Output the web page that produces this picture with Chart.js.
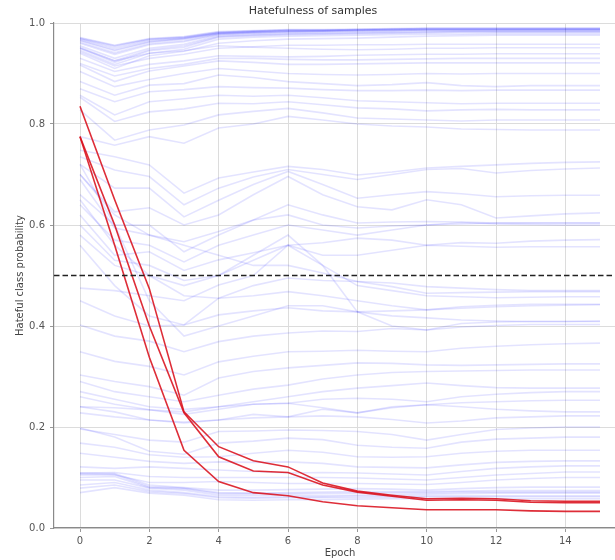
<!DOCTYPE html>
<html>
<head>
<meta charset="utf-8">
<script src="https://cdn.jsdelivr.net/npm/chart.js@4/dist/chart.umd.min.js"></script>
<style>
  html, body { margin: 0; padding: 0; background: #fff; overflow: hidden; }
  #wrap { width: 615px; height: 560px; overflow: hidden; }
</style>
</head>
<body>
<div id="wrap"><canvas id="hateChart" width="640" height="560"></canvas></div>
<script>
// --- data ---
const epochs = [0, 1, 2, 3, 4, 5, 6, 7, 8, 9, 10, 11, 12, 13, 14, 15];
const xTicks = [0, 2, 4, 6, 8, 10, 12, 14];
const yTicks = [0, 0.2, 0.4, 0.6, 0.8, 1.0];
const threshold = 0.5;
const xRange = [-0.75, 15.75];

// the three highlighted samples (red)
const redA = [0.835, 0.650, 0.474, 0.230, 0.161, 0.133, 0.121, 0.089, 0.073, 0.065, 0.058, 0.059, 0.058, 0.054, 0.053, 0.053];
const redB = [0.775, 0.600, 0.400, 0.228, 0.141, 0.113, 0.110, 0.085, 0.071, 0.063, 0.055, 0.056, 0.055, 0.051, 0.050, 0.050];
const redC = [0.775, 0.560, 0.338, 0.154, 0.092, 0.070, 0.064, 0.052, 0.044, 0.040, 0.036, 0.036, 0.036, 0.034, 0.033, 0.033];

// all other samples (faint blue)
const blueTop = [
  [0.971, 0.956, 0.969, 0.973, 0.983, 0.985, 0.987, 0.987, 0.988, 0.989, 0.990, 0.990, 0.990, 0.990, 0.990, 0.990],
  [0.970, 0.955, 0.968, 0.972, 0.982, 0.984, 0.986, 0.986, 0.987, 0.988, 0.989, 0.989, 0.989, 0.989, 0.989, 0.989],
  [0.969, 0.953, 0.967, 0.971, 0.981, 0.984, 0.986, 0.986, 0.987, 0.988, 0.989, 0.989, 0.989, 0.989, 0.989, 0.989],
  [0.968, 0.950, 0.965, 0.970, 0.980, 0.983, 0.985, 0.985, 0.986, 0.987, 0.988, 0.988, 0.988, 0.988, 0.988, 0.988],
  [0.966, 0.947, 0.963, 0.969, 0.980, 0.982, 0.984, 0.985, 0.986, 0.987, 0.987, 0.987, 0.987, 0.987, 0.987, 0.987],
  [0.965, 0.945, 0.962, 0.968, 0.979, 0.982, 0.984, 0.984, 0.985, 0.986, 0.987, 0.987, 0.987, 0.987, 0.987, 0.987],
  [0.962, 0.941, 0.959, 0.965, 0.978, 0.981, 0.983, 0.984, 0.985, 0.985, 0.986, 0.986, 0.986, 0.986, 0.986, 0.986],
  [0.960, 0.938, 0.957, 0.963, 0.977, 0.980, 0.982, 0.983, 0.984, 0.985, 0.986, 0.986, 0.986, 0.986, 0.986, 0.986],
  [0.955, 0.930, 0.950, 0.958, 0.975, 0.978, 0.980, 0.981, 0.982, 0.983, 0.984, 0.984, 0.984, 0.984, 0.984, 0.984],
  [0.952, 0.925, 0.947, 0.955, 0.973, 0.976, 0.978, 0.979, 0.980, 0.981, 0.982, 0.983, 0.983, 0.983, 0.983, 0.983],
  [0.950, 0.922, 0.945, 0.952, 0.972, 0.975, 0.977, 0.978, 0.979, 0.980, 0.981, 0.982, 0.982, 0.982, 0.982, 0.982],
  [0.946, 0.918, 0.940, 0.948, 0.968, 0.972, 0.974, 0.975, 0.976, 0.977, 0.978, 0.978, 0.979, 0.979, 0.979, 0.979],
  [0.940, 0.910, 0.935, 0.944, 0.960, 0.965, 0.968, 0.969, 0.970, 0.972, 0.974, 0.975, 0.976, 0.976, 0.976, 0.976]
];
const blueUpper = [
  [0.943, 0.915, 0.930, 0.938, 0.950, 0.953, 0.956, 0.956, 0.957, 0.957, 0.958, 0.958, 0.958, 0.958, 0.958, 0.958],
  [0.950, 0.925, 0.940, 0.945, 0.955, 0.952, 0.950, 0.948, 0.947, 0.948, 0.950, 0.950, 0.951, 0.951, 0.951, 0.951],
  [0.930, 0.904, 0.918, 0.925, 0.935, 0.934, 0.933, 0.934, 0.936, 0.937, 0.938, 0.938, 0.939, 0.939, 0.939, 0.939],
  [0.920, 0.895, 0.910, 0.918, 0.930, 0.930, 0.928, 0.927, 0.927, 0.928, 0.929, 0.930, 0.930, 0.930, 0.930, 0.930],
  [0.917, 0.884, 0.905, 0.915, 0.925, 0.922, 0.918, 0.918, 0.919, 0.920, 0.921, 0.921, 0.921, 0.921, 0.921, 0.921],
  [0.904, 0.874, 0.888, 0.900, 0.910, 0.905, 0.900, 0.898, 0.897, 0.898, 0.900, 0.899, 0.900, 0.900, 0.900, 0.900],
  [0.884, 0.857, 0.877, 0.880, 0.897, 0.892, 0.884, 0.880, 0.876, 0.878, 0.882, 0.876, 0.874, 0.876, 0.876, 0.876],
  [0.870, 0.844, 0.864, 0.868, 0.874, 0.872, 0.871, 0.868, 0.866, 0.866, 0.867, 0.866, 0.867, 0.867, 0.867, 0.867],
  [0.857, 0.818, 0.844, 0.850, 0.857, 0.855, 0.857, 0.852, 0.846, 0.844, 0.842, 0.840, 0.841, 0.841, 0.841, 0.841],
  [0.853, 0.805, 0.824, 0.830, 0.841, 0.840, 0.844, 0.838, 0.832, 0.830, 0.826, 0.828, 0.829, 0.828, 0.828, 0.828],
  [0.828, 0.768, 0.788, 0.798, 0.818, 0.825, 0.831, 0.822, 0.812, 0.810, 0.808, 0.806, 0.808, 0.808, 0.808, 0.808],
  [0.775, 0.758, 0.775, 0.762, 0.792, 0.800, 0.815, 0.808, 0.800, 0.796, 0.794, 0.790, 0.789, 0.788, 0.788, 0.788]
];
const blueMid = [
  [0.748, 0.735, 0.719, 0.663, 0.693, 0.705, 0.716, 0.710, 0.699, 0.705, 0.713, 0.716, 0.719, 0.722, 0.724, 0.725],
  [0.735, 0.709, 0.696, 0.640, 0.673, 0.695, 0.710, 0.700, 0.690, 0.700, 0.710, 0.712, 0.703, 0.708, 0.711, 0.713],
  [0.720, 0.673, 0.673, 0.616, 0.649, 0.680, 0.706, 0.680, 0.653, 0.660, 0.666, 0.662, 0.656, 0.658, 0.659, 0.659],
  [0.700, 0.626, 0.634, 0.600, 0.620, 0.660, 0.696, 0.660, 0.636, 0.630, 0.650, 0.640, 0.614, 0.618, 0.622, 0.624],
  [0.690, 0.594, 0.580, 0.567, 0.587, 0.610, 0.640, 0.620, 0.604, 0.606, 0.607, 0.606, 0.604, 0.604, 0.604, 0.604],
  [0.660, 0.600, 0.600, 0.547, 0.580, 0.610, 0.620, 0.600, 0.594, 0.598, 0.600, 0.602, 0.604, 0.604, 0.604, 0.604],
  [0.640, 0.570, 0.560, 0.527, 0.560, 0.580, 0.600, 0.590, 0.580, 0.590, 0.600, 0.605, 0.602, 0.601, 0.600, 0.600],
  [0.620, 0.540, 0.547, 0.510, 0.531, 0.545, 0.560, 0.565, 0.574, 0.570, 0.560, 0.565, 0.564, 0.568, 0.570, 0.571],
  [0.600, 0.530, 0.520, 0.490, 0.500, 0.530, 0.560, 0.540, 0.540, 0.550, 0.560, 0.558, 0.556, 0.557, 0.557, 0.557]
];
const blueLow = [
  [0.700, 0.620, 0.580, 0.560, 0.540, 0.520, 0.520, 0.505, 0.488, 0.478, 0.465, 0.466, 0.467, 0.468, 0.468, 0.468],
  [0.475, 0.470, 0.460, 0.450, 0.481, 0.500, 0.560, 0.520, 0.480, 0.470, 0.460, 0.458, 0.456, 0.457, 0.458, 0.458],
  [0.650, 0.560, 0.500, 0.460, 0.455, 0.460, 0.468, 0.460, 0.450, 0.440, 0.432, 0.438, 0.441, 0.443, 0.443, 0.443],
  [0.720, 0.600, 0.450, 0.380, 0.400, 0.420, 0.440, 0.440, 0.428, 0.430, 0.432, 0.435, 0.438, 0.440, 0.441, 0.442],
  [0.560, 0.480, 0.420, 0.402, 0.455, 0.480, 0.495, 0.490, 0.488, 0.485, 0.478, 0.475, 0.472, 0.470, 0.470, 0.470],
  [0.580, 0.520, 0.500, 0.480, 0.500, 0.540, 0.580, 0.520, 0.428, 0.400, 0.392, 0.405, 0.408, 0.409, 0.409, 0.410],
  [0.450, 0.420, 0.400, 0.402, 0.422, 0.430, 0.436, 0.430, 0.428, 0.420, 0.416, 0.412, 0.410, 0.409, 0.409, 0.409],
  [0.402, 0.380, 0.370, 0.349, 0.369, 0.380, 0.386, 0.390, 0.389, 0.395, 0.392, 0.398, 0.401, 0.403, 0.403, 0.403],
  [0.349, 0.330, 0.320, 0.303, 0.329, 0.340, 0.349, 0.350, 0.352, 0.350, 0.349, 0.356, 0.360, 0.363, 0.365, 0.366],
  [0.303, 0.290, 0.280, 0.263, 0.297, 0.310, 0.317, 0.322, 0.327, 0.326, 0.323, 0.322, 0.323, 0.324, 0.325, 0.325],
  [0.290, 0.270, 0.260, 0.250, 0.263, 0.275, 0.283, 0.295, 0.303, 0.308, 0.310, 0.311, 0.312, 0.313, 0.313, 0.313],
  [0.270, 0.255, 0.240, 0.235, 0.240, 0.250, 0.260, 0.270, 0.277, 0.282, 0.287, 0.282, 0.278, 0.277, 0.277, 0.277],
  [0.260, 0.245, 0.234, 0.225, 0.235, 0.245, 0.247, 0.255, 0.257, 0.255, 0.250, 0.260, 0.265, 0.268, 0.270, 0.270],
  [0.240, 0.230, 0.214, 0.210, 0.214, 0.225, 0.220, 0.235, 0.228, 0.240, 0.244, 0.248, 0.250, 0.252, 0.253, 0.253]
];
const blueBottom = [
  [0.240, 0.238, 0.234, 0.230, 0.240, 0.245, 0.247, 0.238, 0.228, 0.238, 0.244, 0.240, 0.235, 0.232, 0.230, 0.230],
  [0.228, 0.220, 0.214, 0.208, 0.214, 0.218, 0.220, 0.222, 0.220, 0.215, 0.208, 0.212, 0.218, 0.220, 0.222, 0.222],
  [0.196, 0.185, 0.174, 0.170, 0.191, 0.192, 0.194, 0.193, 0.191, 0.185, 0.174, 0.185, 0.195, 0.198, 0.200, 0.200],
  [0.198, 0.180, 0.152, 0.146, 0.168, 0.172, 0.178, 0.175, 0.164, 0.160, 0.158, 0.170, 0.176, 0.178, 0.180, 0.180],
  [0.168, 0.160, 0.145, 0.140, 0.141, 0.148, 0.154, 0.150, 0.141, 0.140, 0.141, 0.148, 0.152, 0.154, 0.154, 0.154],
  [0.148, 0.140, 0.132, 0.128, 0.131, 0.130, 0.131, 0.128, 0.121, 0.120, 0.119, 0.125, 0.130, 0.132, 0.133, 0.133],
  [0.121, 0.118, 0.121, 0.118, 0.115, 0.112, 0.109, 0.110, 0.109, 0.107, 0.105, 0.112, 0.118, 0.121, 0.123, 0.123],
  [0.109, 0.110, 0.102, 0.100, 0.100, 0.100, 0.100, 0.100, 0.099, 0.097, 0.095, 0.100, 0.105, 0.108, 0.111, 0.111],
  [0.105, 0.105, 0.090, 0.090, 0.092, 0.090, 0.088, 0.088, 0.088, 0.087, 0.086, 0.090, 0.095, 0.098, 0.100, 0.100],
  [0.109, 0.108, 0.085, 0.080, 0.075, 0.075, 0.076, 0.077, 0.078, 0.077, 0.075, 0.078, 0.080, 0.081, 0.081, 0.081],
  [0.107, 0.106, 0.082, 0.079, 0.070, 0.069, 0.068, 0.068, 0.069, 0.070, 0.070, 0.071, 0.071, 0.071, 0.071, 0.071],
  [0.100, 0.102, 0.080, 0.078, 0.068, 0.068, 0.070, 0.071, 0.072, 0.072, 0.072, 0.073, 0.074, 0.074, 0.074, 0.074],
  [0.095, 0.095, 0.079, 0.075, 0.065, 0.065, 0.065, 0.064, 0.065, 0.066, 0.067, 0.068, 0.069, 0.069, 0.069, 0.069],
  [0.085, 0.090, 0.075, 0.070, 0.062, 0.061, 0.062, 0.062, 0.063, 0.063, 0.064, 0.064, 0.064, 0.064, 0.064, 0.064],
  [0.079, 0.085, 0.072, 0.068, 0.060, 0.059, 0.060, 0.060, 0.060, 0.061, 0.062, 0.062, 0.062, 0.062, 0.062, 0.062],
  [0.070, 0.080, 0.069, 0.065, 0.056, 0.055, 0.056, 0.056, 0.057, 0.058, 0.058, 0.058, 0.058, 0.058, 0.058, 0.058]
];

// --- build datasets ---
const toPoints = ys => ys.map((y, i) => ({ x: epochs[i], y: y }));

const datasets = [];

// dashed threshold line (first = drawn on top)
datasets.push({
    data: [{ x: xRange[0], y: threshold }, { x: xRange[1], y: threshold }],
    borderColor: '#222',
    borderWidth: 1.6,
    borderDash: [5.5, 3],
    pointRadius: 0
});

[redA, redB, redC].forEach(r => {
    datasets.push({
        data: toPoints(r),
        borderColor: 'rgba(218, 16, 28, 0.88)',
        borderWidth: 1.6,
        pointRadius: 0
    });
});

[...blueTop, ...blueUpper, ...blueMid, ...blueLow, ...blueBottom].forEach(b => {
    datasets.push({
        data: toPoints(b),
        borderColor: 'rgba(0, 0, 255, 0.11)',
        borderWidth: 1.6,
        pointRadius: 0
    });
});

const tickFont = { family: 'DejaVu Sans', size: 10 };
const gridColor = '#dcdcdc';

new Chart(document.getElementById('hateChart'), {
    type: 'line',
    data: { datasets: datasets },
    options: {
        responsive: false,
        animation: false,
        events: [],
        layout: { padding: { left: 0, right: 14, top: 0, bottom: 0 } },
        elements: { line: { tension: 0 } },
        plugins: {
            legend: { display: false },
            tooltip: { enabled: false },
            title: {
                display: true,
                text: 'Hatefulness of samples',
                color: '#333',
                font: { family: 'DejaVu Sans', size: 11, weight: 'normal', lineHeight: '13px' },
                padding: { top: 5, bottom: 5 }
            }
        },
        scales: {
            x: {
                type: 'linear',
                min: xRange[0],
                max: xRange[1],
                afterBuildTicks: axis => { axis.ticks = xTicks.map(v => ({ value: v })); },
                afterFit: scale => { scale.height = 32; },
                ticks: { color: '#555', font: tickFont, padding: 3, maxRotation: 0, callback: v => String(v) },
                grid: { color: gridColor, lineWidth: 1, tickLength: 4, tickColor: '#999' },
                border: { display: true, color: '#8a8a8a', width: 1.2 },
                title: {
                    display: true, text: 'Epoch', color: '#444',
                    font: { family: 'DejaVu Sans', size: 10 },
                    padding: { top: 0, bottom: 1 }
                }
            },
            y: {
                type: 'linear',
                min: 0,
                max: 1,
                afterBuildTicks: axis => { axis.ticks = yTicks.map(v => ({ value: v })); },
                afterFit: scale => { scale.width = 54; },
                ticks: { color: '#555', font: tickFont, padding: 5, callback: v => v.toFixed(1) },
                grid: { color: gridColor, lineWidth: 1, tickLength: 4, tickColor: '#999' },
                border: { display: true, color: '#8a8a8a', width: 1.2 },
                title: {
                    display: true, text: 'Hateful class probability', color: '#444',
                    font: { family: 'DejaVu Sans', size: 10 },
                    padding: { top: 14, bottom: 0 }
                }
            }
        }
    }
});
</script>
</body>
</html>
